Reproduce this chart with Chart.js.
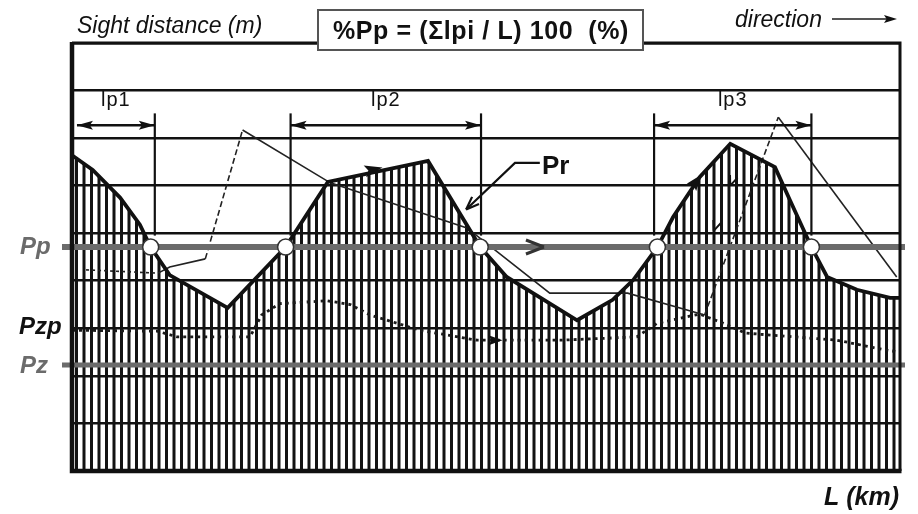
<!DOCTYPE html>
<html><head><meta charset="utf-8">
<script src="https://cdn.jsdelivr.net/npm/chart.js@4/dist/chart.umd.min.js"></script>
<style>html,body{margin:0;padding:0;background:#fff;}#wrap{width:918px;height:514px;position:relative;}</style>
</head><body><div id="wrap"><canvas id="c" width="918" height="514"></canvas></div>
<script>
// ---- data (x: position along the road L, 0-100; y: sight distance, m) ----
const prL      = [0, 2.5, 5.8, 8.2, 9.5, 11.8, 18.8, 25.8, 30.9, 43.0, 49.3, 52.5, 61.0, 65.3, 67.8, 70.7, 72.6, 75.8, 79.5, 84.9, 86.7, 89.3, 91.2, 94.8, 98.8, 100];
const prSight  = [664, 633, 575, 518, 471, 412, 343, 471, 608, 652, 471, 408, 317, 360, 402, 471, 534, 618, 688, 639, 570, 471, 408, 381, 364, 364];
const revL     = [1.7, 10.4, 11.8, 16.1, 20.6, 31.2, 47.7, 57.7, 67.1, 76.4, 85.3, 99.6];
const revSight = [423, 416, 429, 446, 717, 606, 511, 374, 374, 328, 744, 408];
const pzpL     = [0, 10.3, 12.7, 21.5, 22.9, 25.1, 30.8, 33.6, 36.0, 42.0, 48.9, 58.9, 68.2, 70.7, 75.8, 78.6, 81.3, 92.4, 98.4, 100];
const pzpSight = [296, 294, 282, 282, 328, 352, 358, 350, 328, 296, 275, 275, 282, 311, 330, 311, 290, 275, 254, 250];
const gridLevels  = [0, 100, 200, 300, 400, 500, 600, 700, 800, 900];
const levelNames  = ['Pp', 'Pzp', 'Pz'];
const levelValues = [471, 294, 223];
const crossL   = [9.5, 25.8, 49.3, 70.7, 89.3];
const ipNames  = ['lp1', 'lp2', 'lp3'];
const ipStart  = [0.6, 26.4, 70.3];
const ipEnd    = [10.0, 49.4, 89.3];

function pts(xs, ys){ return xs.map((v,i)=>({x:v, y:ys[i]})); }

// vertical hatch pattern
const pc = document.createElement('canvas'); pc.width = 15; pc.height = 8;
const pcx = pc.getContext('2d'); pcx.fillStyle = '#121212';
pcx.fillRect(0,0,3,8); pcx.fillRect(7.5,0,3,8);
const hatch = pcx.createPattern(pc, 'repeat');

function head(ctx, x, y, ang, len, wid, filled){
  ctx.save(); ctx.translate(x,y); ctx.rotate(ang);
  ctx.beginPath(); ctx.moveTo(0,0); ctx.lineTo(-len, -wid/2);
  if (filled){ ctx.lineTo(-len*0.8, 0); } else { ctx.moveTo(0,0); }
  ctx.lineTo(-len, wid/2);
  if (filled){ ctx.closePath(); ctx.fill(); } else { ctx.stroke(); }
  ctx.restore();
}

const deco = {
  id: 'deco',
  afterDraw(chart){
    const {ctx, chartArea:a, scales:{x, y}} = chart;
    const X = v => x.getPixelForValue(v), Y = v => y.getPixelForValue(v);
    ctx.save();
    // level lines Pp and Pz (grey)
    ctx.strokeStyle = '#6b6b6b';
    ctx.lineWidth = 6; ctx.beginPath(); ctx.moveTo(a.left-10, Y(levelValues[0])); ctx.lineTo(a.right+5, Y(levelValues[0])); ctx.stroke();
    ctx.lineWidth = 5; ctx.beginPath(); ctx.moveTo(a.left-10, Y(levelValues[2])); ctx.lineTo(a.right+5, Y(levelValues[2])); ctx.stroke();
    // level labels
    ctx.font = 'italic bold 24px "Liberation Sans", Arial, sans-serif';
    ctx.textBaseline = 'middle'; ctx.textAlign = 'left';
    ctx.fillStyle = '#6b6b6b'; ctx.fillText(levelNames[0], 20, Y(levelValues[0]));
    ctx.fillStyle = '#111'; ctx.fillText(levelNames[1], 19, Y(levelValues[1]) - 4);
    ctx.fillStyle = '#6b6b6b'; ctx.fillText(levelNames[2], 20, Y(levelValues[2]) + 1);
    // ip interval verticals and arrows
    ctx.strokeStyle = '#111'; ctx.fillStyle = '#111'; ctx.lineWidth = 2.2;
    const vx = [ipEnd[0], ipStart[1], ipEnd[1], ipStart[2], ipEnd[2]];
    vx.forEach(v => { ctx.beginPath(); ctx.moveTo(X(v), Y(752)); ctx.lineTo(X(v), Y(495)); ctx.stroke(); });
    ctx.font = '20px "Liberation Sans", Arial, sans-serif'; ctx.textAlign = 'center'; ctx.textBaseline = 'alphabetic';
    ctx.letterSpacing = '1px';
    ipNames.forEach((n, i) => {
      const yy = Y(727), x0 = X(ipStart[i]), x1 = X(ipEnd[i]);
      ctx.lineWidth = 2.5; ctx.beginPath(); ctx.moveTo(x0, yy); ctx.lineTo(x1, yy); ctx.stroke();
      head(ctx, x1, yy, 0, 16, 9, true); head(ctx, x0, yy, Math.PI, 16, 9, true);
      ctx.fillText(n, (x0+x1)/2, Y(768));
    });
    ctx.letterSpacing = '0px';
    // crossing circles
    crossL.forEach(v => {
      ctx.beginPath(); ctx.arc(X(v), Y(levelValues[0]), 8, 0, Math.PI*2);
      ctx.fillStyle = '#fff'; ctx.fill(); ctx.lineWidth = 1.5; ctx.strokeStyle = '#333'; ctx.stroke();
    });
    // direction chevrons
    ctx.strokeStyle = '#111'; ctx.fillStyle = '#111'; ctx.lineWidth = 3;
    head(ctx, X(37.5), Y(638), Math.atan2(Y(652)-Y(608), X(43)-X(30.9)), 18, 12, true);
    ctx.strokeStyle = '#333';
    head(ctx, X(57), Y(levelValues[0]), 0, 18, 14, false);
    ctx.strokeStyle = '#111';
    head(ctx, X(76), Y(623), Math.atan2(Y(688)-Y(534), X(79.5)-X(72.6)), 16, 12, true);
    head(ctx, X(52), Y(275), 0, 14, 10, true);
    ctx.lineWidth = 2;
    head(ctx, X(77.5), Y(505), Math.atan2(Y(328)-Y(744), X(76.4)-X(85.3)), 10, 8, false);
    head(ctx, X(79.5), Y(600), Math.atan2(Y(328)-Y(744), X(76.4)-X(85.3)), 10, 8, false);
    // Pr leader and label
    ctx.lineWidth = 2.2; ctx.beginPath();
    ctx.moveTo(X(56.5), Y(648)); ctx.lineTo(X(53.5), Y(648)); ctx.lineTo(X(47.6), Y(550)); ctx.stroke();
    head(ctx, X(47.6), Y(550), Math.atan2(Y(550)-Y(648), X(47.6)-X(53.5)), 13, 10, false);
    ctx.font = 'bold 26px "Liberation Sans", Arial, sans-serif'; ctx.textAlign = 'left'; ctx.textBaseline = 'alphabetic';
    ctx.fillStyle = '#111'; ctx.fillText('Pr', 542, 174);
    // frame
    ctx.strokeStyle = '#111';
    ctx.lineWidth = 3; ctx.beginPath(); ctx.moveTo(a.left, a.top); ctx.lineTo(a.right, a.top); ctx.lineTo(a.right, a.bottom); ctx.stroke();
    ctx.lineWidth = 4.5; ctx.beginPath(); ctx.moveTo(a.left, a.top-1); ctx.lineTo(a.left, a.bottom); ctx.lineTo(a.right+1.5, a.bottom); ctx.stroke();
    // title box
    ctx.fillStyle = '#fff'; ctx.fillRect(318, 10, 325, 40);
    ctx.strokeStyle = '#555'; ctx.lineWidth = 2; ctx.strokeRect(318, 10, 325, 40);
    ctx.fillStyle = '#111'; ctx.font = 'bold 25px "Liberation Sans", Arial, sans-serif'; ctx.textAlign = 'center';
    ctx.letterSpacing = '0.6px';
    ctx.fillText('%Pp = (\u03A3lpi / L) 100  (%)', 481, 39);
    ctx.letterSpacing = '0px';
    // corner texts
    ctx.font = 'italic 23px "Liberation Sans", Arial, sans-serif'; ctx.textAlign = 'left';
    ctx.fillText('Sight distance (m)', 77, 33);
    ctx.fillText('direction', 735, 27);
    ctx.lineWidth = 2; ctx.beginPath(); ctx.moveTo(832, 19); ctx.lineTo(888, 19); ctx.stroke();
    head(ctx, 897, 19, 0, 13, 8, true);
    ctx.font = 'italic bold 25px "Liberation Sans", Arial, sans-serif'; ctx.textAlign = 'right';
    ctx.fillText('L (km)', 899, 505);
    ctx.restore();
  }
};

new Chart(document.getElementById('c'), {
  type: 'line',
  data: {
    datasets: [
      { label: 'Pr', data: pts(prL, prSight), borderColor: '#111', borderWidth: 3.8, pointRadius: 0,
        fill: 'origin', backgroundColor: hatch, tension: 0 },
      { label: 'reverse', data: pts(revL, revSight), borderColor: '#222', borderWidth: 1.6, pointRadius: 0, fill: false,
        segment: { borderDash: c => (c.p1.parsed.y - c.p0.parsed.y > 80) ? [6, 3] : (c.p0DataIndex === 0 ? [3, 3] : undefined) } },
      { label: 'Pzp', data: pts(pzpL, pzpSight), borderColor: '#1a1a1a', borderWidth: 2.8, pointRadius: 0, fill: false,
        borderDash: [3, 4] }
    ]
  },
  options: {
    responsive: false, animation: false, devicePixelRatio: 1,
    layout: { padding: { left: 72, right: 18, top: 43, bottom: 43 } },
    plugins: { legend: { display: false }, tooltip: { enabled: false }, filler: { drawTime: 'beforeDatasetsDraw' } },
    scales: {
      x: { type: 'linear', min: 0, max: 100, display: false },
      y: { type: 'linear', min: gridLevels[0], max: gridLevels[gridLevels.length-1], z: 1,
           afterBuildTicks: s => { s.ticks = gridLevels.map(v => ({value: v})); },
           ticks: { display: false }, border: { display: false },
           grid: { color: '#111', lineWidth: 2.6, drawTicks: false } }
    }
  },
  plugins: [deco]
});
</script></body></html>
